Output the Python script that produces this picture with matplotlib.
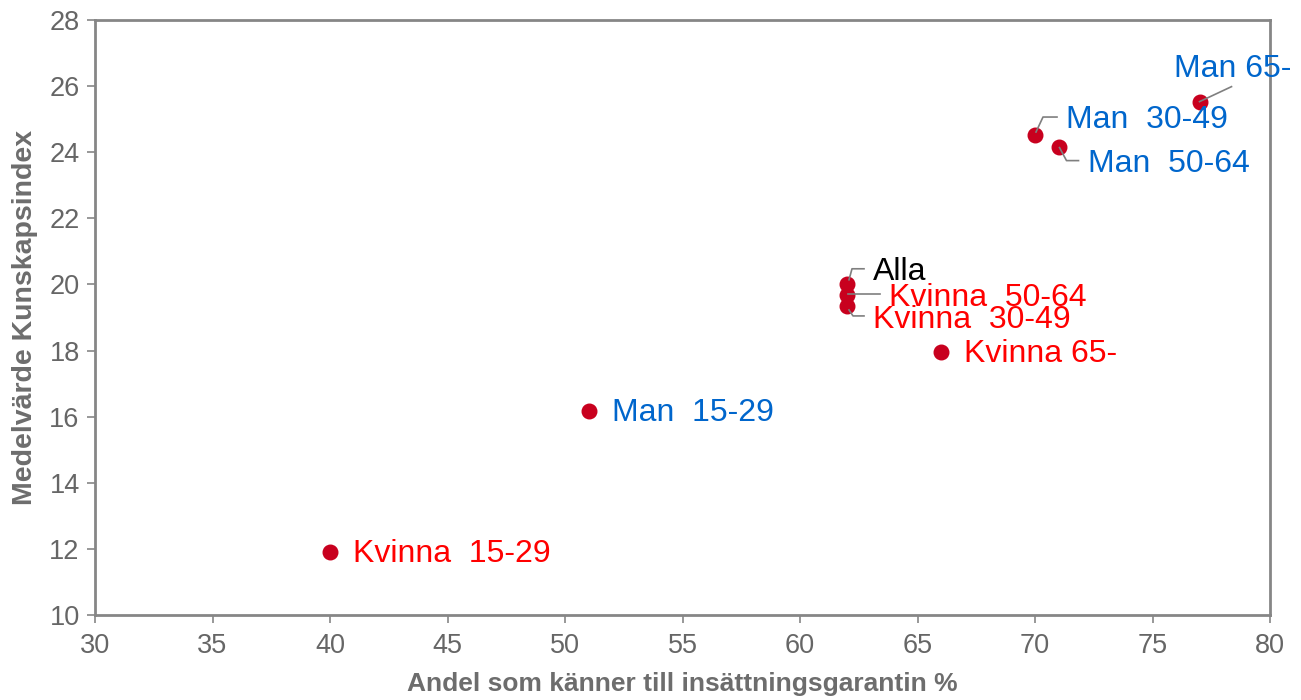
import matplotlib
matplotlib.use("Agg")
import matplotlib.pyplot as plt
import numpy as np

plt.rcParams["font.family"] = ["Liberation Sans", "DejaVu Sans"]

labels = ["Kvinna  15-29", "Man  15-29", "Alla", "Kvinna  50-64", "Kvinna  30-49",
          "Kvinna 65-", "Man  30-49", "Man  50-64", "Man 65-"]
andel = [40, 51, 62, 62, 62, 66, 70, 71, 77]
index = [11.9, 16.17, 20.02, 19.68, 19.35, 17.97, 24.52, 24.17, 25.53]
groups = ["kvinna", "man", "alla", "kvinna", "kvinna", "kvinna", "man", "man", "man"]

colors = {"kvinna": "#FF0000", "man": "#0066CC", "alla": "#000000"}

# label offsets in pixels (dx, dy up) and leader line vertices
text_off = [(23, -2), (23, -2), (26, 12), (42, -3), (26, -14), (23, -2), (31, 15), (30, -17), (-26, 33)]
leaders = [None, None,
           [(2, 4), (5, 15), (17, 15)],
           [(1, 1), (33, 1)],
           [(2, -4), (6, -10), (17, -10)],
           None,
           [(1, 3), (8, 18), (22, 18)],
           [(1, -1), (8, -14), (20, -14)],
           [(0, 0), (32, 15)]]

fig = plt.figure(figsize=(13.01, 7.0), dpi=100)
ax = fig.add_axes([95 / 1301, 1 - 615 / 700, 1175 / 1301, 595 / 700])

ax.scatter(andel, index, s=110, color="#C8001E", zorder=3)

ax.set_xlim(30, 80)
ax.set_ylim(10, 28)
ax.set_xticks(np.arange(30, 81, 5))
ax.set_yticks(np.arange(10, 29, 2))

gray = "#868686"
for sp in ax.spines.values():
    sp.set_color(gray)
    sp.set_linewidth(2)
ax.tick_params(colors=gray, labelcolor="#666666", labelsize=19.5, width=1.2, length=6, direction="out")
ax.tick_params(axis="x", pad=7)
ax.tick_params(axis="y", pad=5)

ax.set_xlabel("Andel som känner till insättningsgarantin %", fontsize=19, fontweight="bold",
              color="#6d6d6d", labelpad=9)
ax.set_ylabel("Medelvärde Kunskapsindex", fontsize=20.5, fontweight="bold", color="#6d6d6d",
              labelpad=8)

fig.canvas.draw()
for i in range(len(labels)):
    px, py = ax.transData.transform((andel[i], index[i]))
    dx, dy = text_off[i]
    fig.text((px + dx) / 1301, (py + dy) / 700, labels[i], fontsize=23, color=colors[groups[i]],
             ha="left", va="center")
    if leaders[i] is not None:
        xs = [(px + v[0]) / 1301 for v in leaders[i]]
        ys = [(py + v[1]) / 700 for v in leaders[i]]
        fig.add_artist(plt.Line2D(xs, ys, color="#7f7f7f", linewidth=1.2, zorder=4))

fig.savefig("out.png", dpi=100)
